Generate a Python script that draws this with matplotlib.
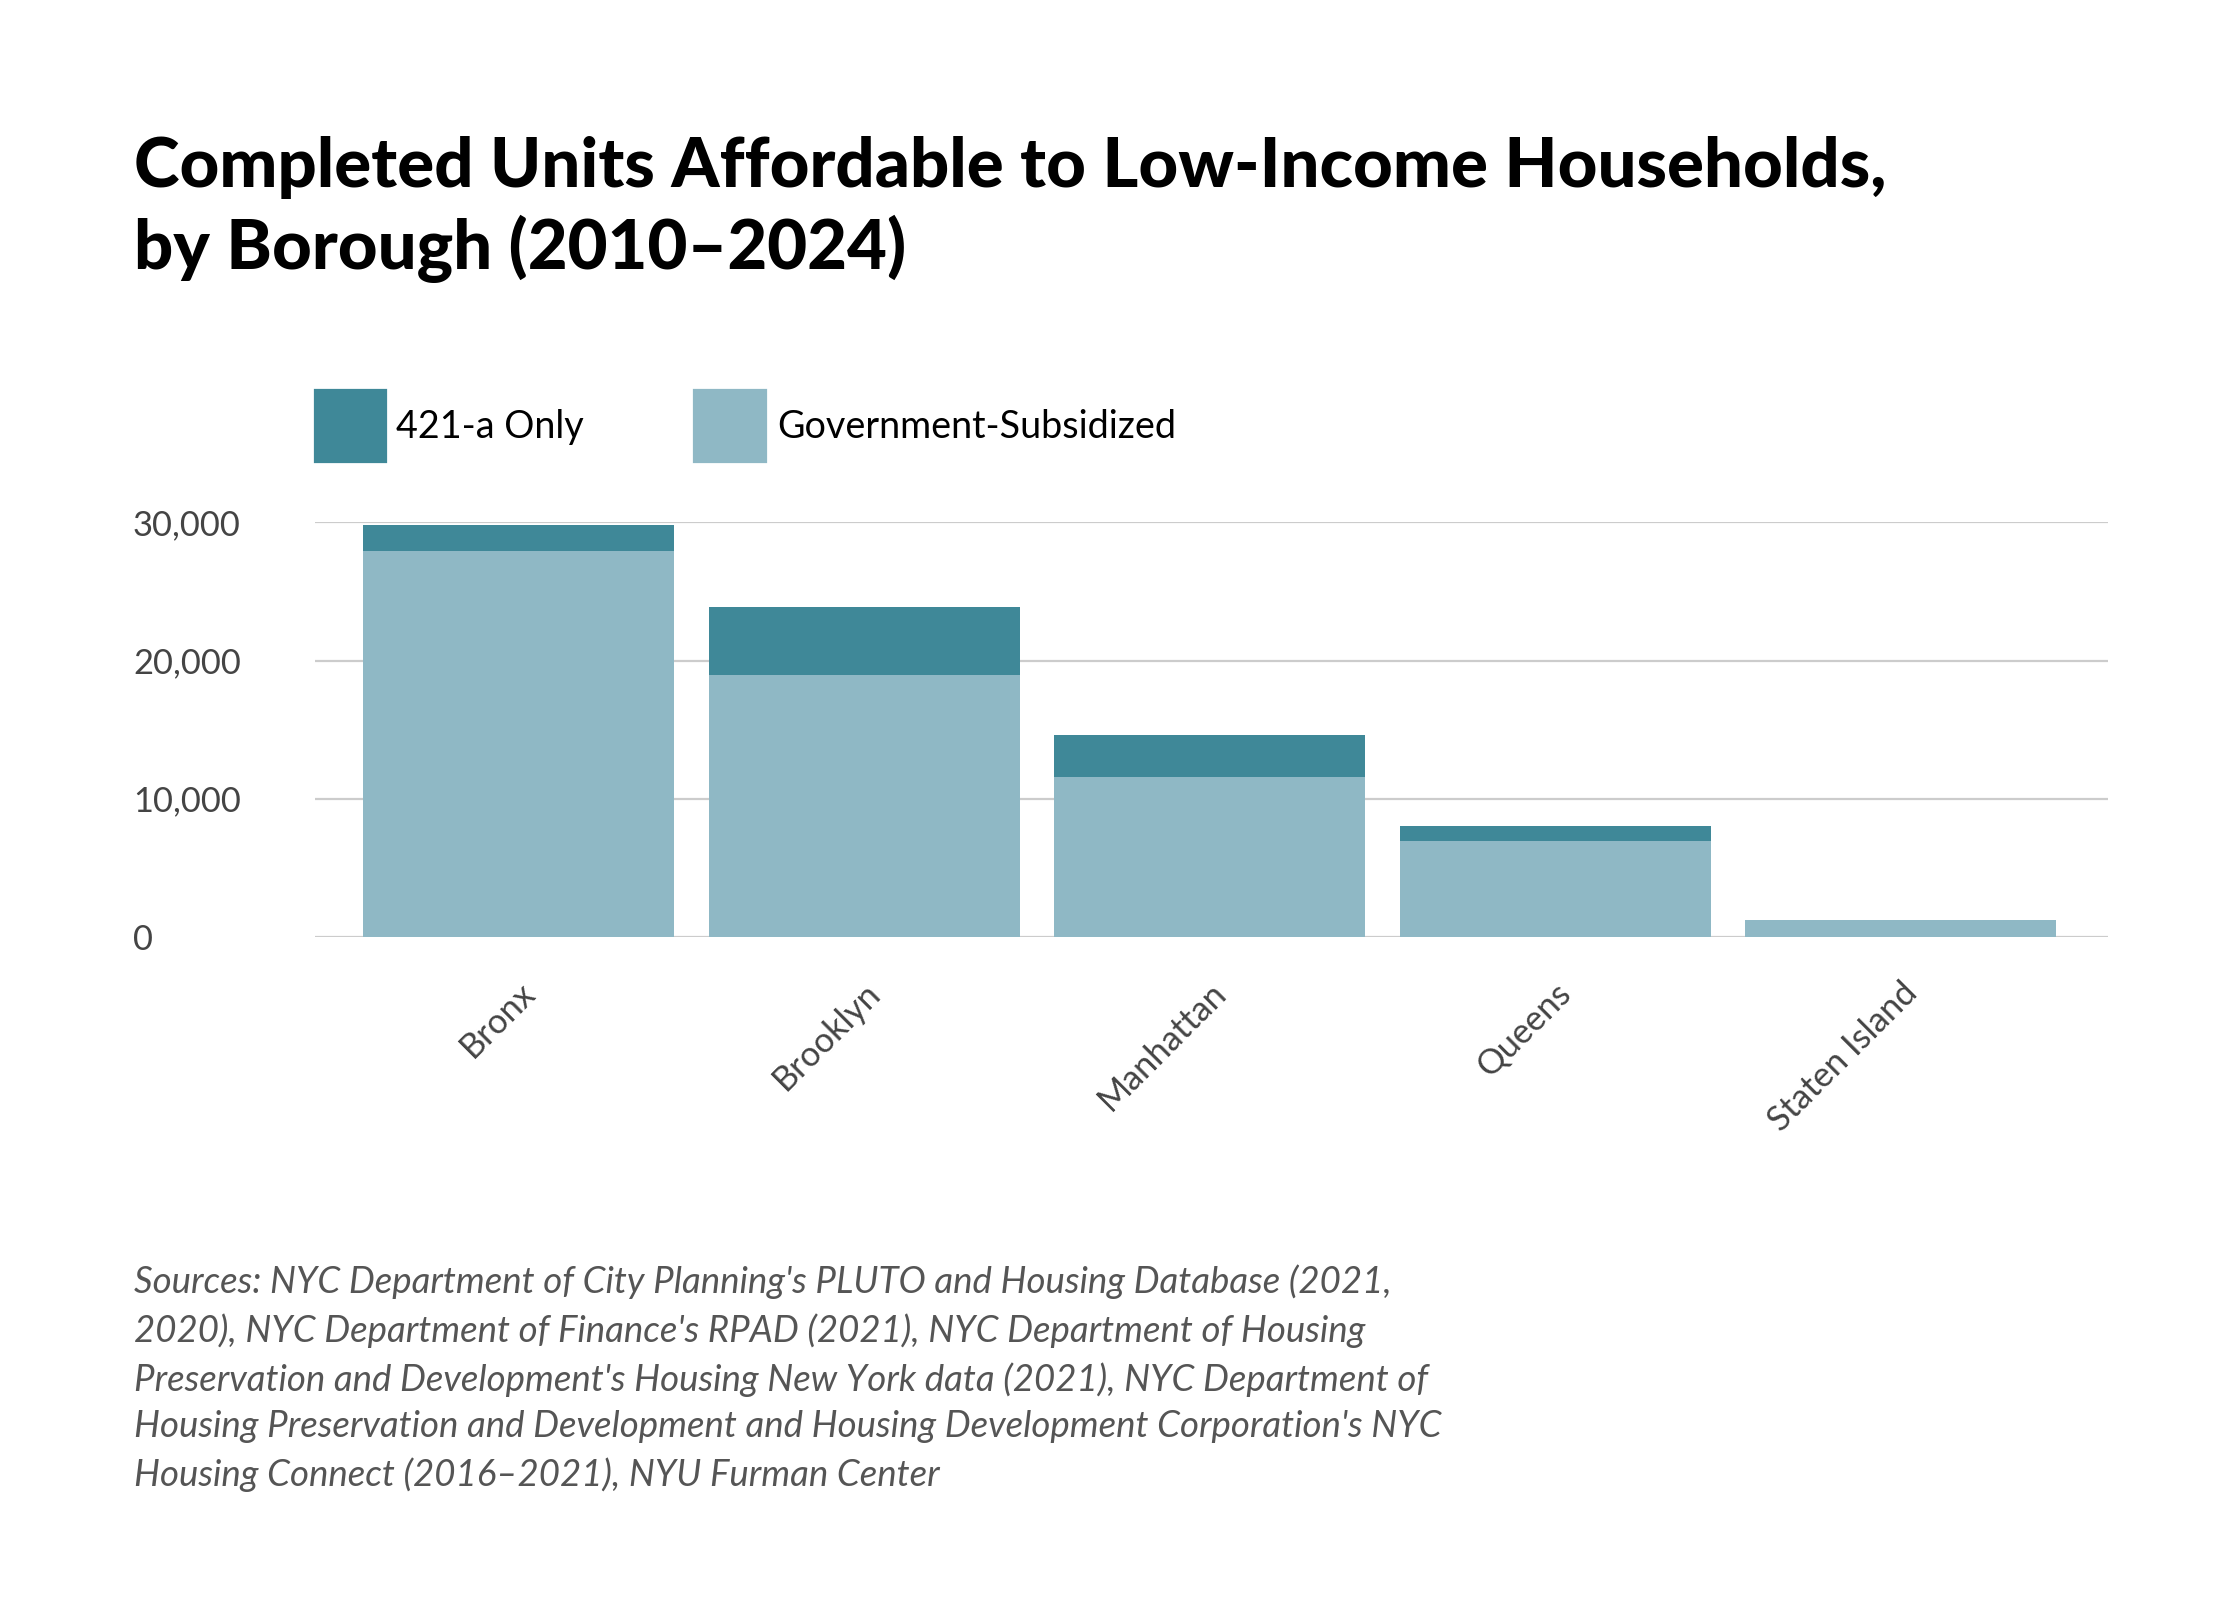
import matplotlib.pyplot as plt
import numpy as np

boroughs = ["Bronx", "Brooklyn", "Manhattan", "Queens", "Staten Island"]
gov_subsidized = [27900, 18950, 11550, 6900, 1200]
only_421a = [1900, 4900, 3050, 1100, 50]

c_dark = "#3f8898"
c_light = "#8fb8c5"

plt.rcParams["font.family"] = ["Lato", "DejaVu Sans"]

fig = plt.figure(figsize=(14, 10), dpi=160)
ax = fig.add_axes([0.1405, 0.4145, 0.8005, 0.259])

x = np.arange(len(boroughs))
ax.bar(x, gov_subsidized, width=0.9, color=c_light, zorder=2)
ax.bar(x, only_421a, width=0.9, bottom=gov_subsidized, color=c_dark, zorder=2)

ax.set_xlim(-0.59, 4.6)
ax.set_ylim(0, 30000)
ax.set_yticks([0, 10000, 20000, 30000])
ax.set_yticklabels(["0", "10,000", "20,000", "30,000"])
ax.yaxis.grid(True, color="#cccccc", linewidth=1, zorder=0)
for s in ax.spines.values():
    s.set_visible(False)
ax.tick_params(axis="both", length=0, labelsize=15.5, labelcolor="#444444")
ax.set_xticks(x)
ax.set_xticklabels(boroughs, rotation=45, ha="right", rotation_mode="anchor")
ax.tick_params(axis="x", pad=18)
for lbl in ax.get_yticklabels():
    lbl.set_horizontalalignment("left")
    lbl.set_x(-0.097)

fig.text(0.06, 0.915, "Completed Units Affordable to Low-Income Households,\nby Borough (2010–2024)",
         fontsize=31, fontweight="black", va="top", linespacing=1.3)

# legend
fig.patches.append(plt.Rectangle((0.1405, 0.711), 0.032, 0.045, transform=fig.transFigure, color=c_dark))
fig.text(0.177, 0.733, "421-a Only", fontsize=17, va="center")
fig.patches.append(plt.Rectangle((0.31, 0.711), 0.032, 0.045, transform=fig.transFigure, color=c_light))
fig.text(0.347, 0.733, "Government-Subsidized", fontsize=17, va="center")

fig.text(0.06, 0.21,
         "Sources: NYC Department of City Planning's PLUTO and Housing Database (2021,\n"
         "2020), NYC Department of Finance's RPAD (2021), NYC Department of Housing\n"
         "Preservation and Development's Housing New York data (2021), NYC Department of\n"
         "Housing Preservation and Development and Housing Development Corporation's NYC\n"
         "Housing Connect (2016–2021), NYU Furman Center",
         fontsize=16.5, style="italic", color="#555555", va="top", linespacing=1.5)

fig.savefig("out.png", dpi=160, facecolor="white")
